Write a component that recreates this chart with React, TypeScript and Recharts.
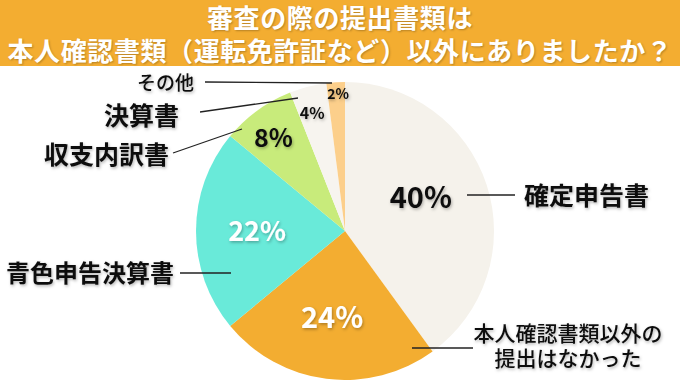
import { PieChart, Pie, Cell } from 'recharts';

const categories = ['確定申告書', '本人確認書類以外の\n提出はなかった', '青色申告決算書', '収支内訳書', '決算書', 'その他'];
const shares = [40, 24, 22, 8, 4, 2];
const sliceColors = ['#F5F2EB', '#F3AD31', '#69EAD9', '#C8EB7B', '#F7F4EF', '#FCCF8B'];
const titleLines = ['審査の際の提出書類は', '本人確認書類（運転免許証など）以外にありましたか？'];

const data = categories.map((name, i) => ({ name, value: shares[i] }));

const FONT = '"Noto Sans CJK JP", "Noto Sans", sans-serif';

// percent label placement: fraction of radius, angle nudge, size, colour
const pctStyle = [
    { r: 0.555, da: 5.5, size: 29, fill: '#111' },
    { r: 0.59, da: -1.3, size: 29, fill: '#fff' },
    { r: 0.59, da: 0.5, size: 27, fill: '#fff' },
    { r: 0.79, da: 1.5, size: 25, fill: '#111' },
    { r: 0.82, da: 1.2, size: 16, fill: '#111' },
    { r: 0.92, da: -0.7, size: 14, fill: '#111' },
];

// leader line + category text, relative to pie centre
const outer = [
    { line: [122, -36, 170, -36], tx: 179, ty: -36, anchor: 'start', size: 25, weight: 700 },
    { line: [67, 117, 128, 117], tx: 223, ty: 102, anchor: 'middle', size: 21, weight: 500 },
    { line: [-165, 42, -114, 42], tx: -171, ty: 42, anchor: 'end', size: 24, weight: 700 },
    { line: [-172, -78, -103, -102], tx: -176, ty: -77, anchor: 'end', size: 25, weight: 700 },
    { line: [-145, -119, -47, -133], tx: -166, ty: -116, anchor: 'end', size: 25, weight: 700 },
    { line: [-140, -149, -13, -148], tx: -151, ty: -148, anchor: 'end', size: 19, weight: 500 },
];

const RAD = Math.PI / 180;

const renderLabel = (props: any) => {
    const { cx, cy, midAngle, outerRadius, percent, index, name } = props;
    const p = pctStyle[index];
    const o = outer[index];
    const a = (midAngle + p.da) * RAD;
    const px = cx + outerRadius * p.r * Math.cos(-a);
    const py = cy + outerRadius * p.r * Math.sin(-a);
    const lines = String(name).split('\n');
    const lh = 25;
    return (
        <g key={`lbl-${index}`}>
            <text
                x={px}
                y={py + p.size * 0.36}
                textAnchor="middle"
                fontFamily={FONT}
                fontWeight={700}
                fontSize={p.size}
                fill={p.fill}
                filter="url(#softShadow)"
            >
                {`${Math.round(percent * 100)}%`}
            </text>
            <line
                x1={cx + o.line[0]}
                y1={cy + o.line[1]}
                x2={cx + o.line[2]}
                y2={cy + o.line[3]}
                stroke="#222"
                strokeWidth={1.3}
            />
            <text
                textAnchor={o.anchor}
                fontFamily={FONT}
                fontWeight={o.weight}
                fontSize={o.size}
                fill="#111"
                filter="url(#softShadow)"
            >
                {lines.map((t, k) => (
                    <tspan key={k} x={cx + o.tx} y={cy + o.ty + k * lh + o.size * 0.38}>
                        {t}
                    </tspan>
                ))}
            </text>
        </g>
    );
};

export default function App() {
    return (
        <div style={{ position: 'absolute', left: 0, top: 0, width: 680, height: 380, background: '#fff', overflow: 'hidden' }}>
            <svg width={0} height={0} style={{ position: 'absolute' }}>
                <defs>
                    <filter id="softShadow" x="-20%" y="-40%" width="140%" height="180%">
                        <feDropShadow dx={1} dy={1.5} stdDeviation={1.5} floodColor="#000" floodOpacity={0.3} />
                    </filter>
                </defs>
            </svg>
            <div
                style={{
                    position: 'absolute',
                    left: 0,
                    top: 0,
                    width: 680,
                    height: 66,
                    background: '#F3AD31',
                    color: '#fff',
                    fontFamily: FONT,
                    fontWeight: 700,
                    fontSize: 26,
                    lineHeight: '33px',
                    textAlign: 'center',
                    letterSpacing: 0.6,
                    textShadow: '1px 1px 2px rgba(0,0,0,0.25)',
                }}
            >
                {titleLines.map((t) => (
                    <div key={t}>{t}</div>
                ))}
            </div>
            <div style={{ position: 'absolute', left: 0, top: 0 }}>
                <PieChart width={680} height={380}>
                    <Pie
                        data={data}
                        dataKey="value"
                        nameKey="name"
                        cx={340}
                        cy={226}
                        outerRadius={149}
                        startAngle={90}
                        endAngle={-270}
                        stroke="none"
                        label={renderLabel}
                        labelLine={false}
                        isAnimationActive={false}
                    >
                        {data.map((d, i) => (
                            <Cell key={d.name} fill={sliceColors[i]} />
                        ))}
                    </Pie>
                </PieChart>
            </div>
        </div>
    );
}
